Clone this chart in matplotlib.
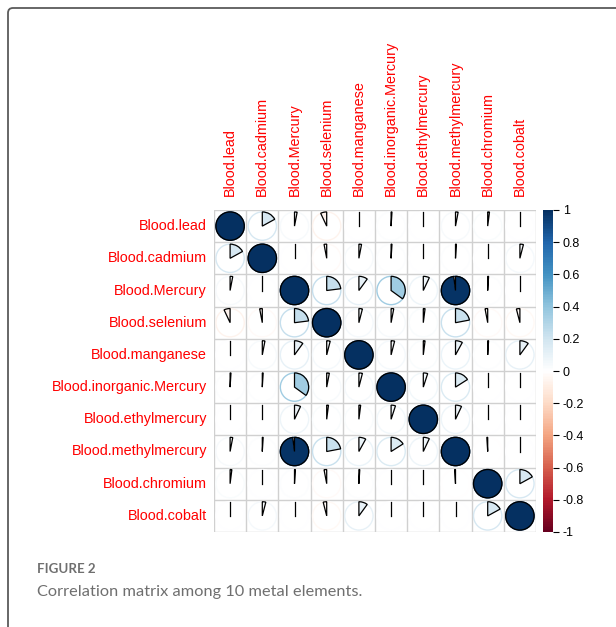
import matplotlib
matplotlib.use("Agg")
import matplotlib.pyplot as plt
from matplotlib.patches import Wedge, Circle, FancyBboxPatch
from matplotlib.colors import LinearSegmentedColormap, Normalize
from matplotlib.cm import ScalarMappable

labels = ["Blood.lead", "Blood.cadmium", "Blood.Mercury", "Blood.selenium",
          "Blood.manganese", "Blood.inorganic.Mercury", "Blood.ethylmercury",
          "Blood.methylmercury", "Blood.chromium", "Blood.cobalt"]

# upper triangle of the correlation matrix, row by row (diagonal = 1)
upper = [
    [0.17, 0.03, -0.07, 0.00, 0.01, 0.00, 0.03, 0.02, 0.00],
    [0.00, -0.03, 0.03, 0.01, 0.00, 0.01, 0.00, 0.04],
    [0.23, 0.10, 0.35, 0.07, 0.98, 0.01, 0.00],
    [0.04, 0.03, 0.02, 0.22, -0.03, -0.04],
    [0.04, 0.02, 0.08, 0.01, 0.10],
    [0.05, 0.16, 0.00, 0.00],
    [0.07, 0.00, 0.00],
    [-0.01, 0.00],
    [0.17],
]

cbar_ticks = [-1, -0.8, -0.6, -0.4, -0.2, 0, 0.2, 0.4, 0.6, 0.8, 1]

palette = ["#67001F", "#B2182B", "#D6604D", "#F4A582", "#FDDBC7", "#FFFFFF",
           "#D1E5F0", "#92C5DE", "#4393C3", "#2166AC", "#053061"]
cmap = LinearSegmentedColormap.from_list("corr", palette, N=200)
norm = Normalize(-1, 1)

n = len(labels)
corr = [[1.0] * n for _ in range(n)]
for i, row in enumerate(upper):
    for k, v in enumerate(row):
        j = i + 1 + k
        corr[i][j] = v
        corr[j][i] = v

W, H = 616, 627
fig = plt.figure(figsize=(W / 100, H / 100), dpi=100)

# outer frame (cropped on the right and bottom)
frame = FancyBboxPatch((8 / W, -0.1), 1.2, 1 - 8 / H + 0.1,
                       boxstyle="round,pad=0,rounding_size=0.008",
                       transform=fig.transFigure, fill=False,
                       edgecolor="#5a5a5a", linewidth=1.3)
fig.patches.append(frame)

font = "Liberation Sans"
ax = fig.add_axes([214 / W, 95 / H, 322 / W, 322 / H])
ax.set_xlim(0, n)
ax.set_ylim(0, n)
ax.set_axis_off()

for k in range(n + 1):
    ax.plot([k, k], [0, n], color="#d0d0d0", lw=1.0, zorder=1)
    ax.plot([0, n], [k, k], color="#d0d0d0", lw=1.0, zorder=1)

rad = 0.44
for i in range(n):
    for j in range(n):
        r = corr[i][j]
        cx, cy = j + 0.5, n - i - 0.5
        col = cmap(norm(r))
        ax.add_patch(Circle((cx, cy), rad, facecolor="white", edgecolor=col,
                            lw=1.0, zorder=2))
        if abs(r) < 0.005:
            ax.plot([cx, cx], [cy, cy + rad], color="black", lw=0.9, zorder=3)
        elif r > 0:
            ax.add_patch(Wedge((cx, cy), rad, 90 - 360 * r, 90, facecolor=col,
                               edgecolor="black", lw=0.9, zorder=3))
        else:
            ax.add_patch(Wedge((cx, cy), rad, 90, 90 - 360 * r, facecolor=col,
                               edgecolor="black", lw=0.9, zorder=3))

for i, lab in enumerate(labels):
    ax.text(-0.22, n - i - 0.5, lab, ha="right", va="center", color="red",
            fontsize=10.4, family=font)
    ax.text(i + 0.5, n + 0.42, lab, ha="center", va="bottom", rotation=90,
            color="red", fontsize=10.4, family=font)

cax = fig.add_axes([543 / W, 95 / H, 10 / W, 322 / H])
sm = ScalarMappable(norm=norm, cmap=cmap)
cb = fig.colorbar(sm, cax=cax, ticks=cbar_ticks)
cb.outline.set_visible(False)
cb.ax.set_yticklabels([("%g" % t) for t in cbar_ticks])
cb.ax.tick_params(length=4, width=0.8, labelsize=9, pad=3)
for t in cb.ax.get_yticklabels():
    t.set_family(font)

fig.text(37 / W, 1 - 569 / H, "FIGURE 2", ha="left", va="center",
         fontsize=9.6, color="#6f6f6f", family="Lato", weight="bold")
fig.text(37 / W, 1 - 592 / H, "Correlation matrix among 10 metal elements.",
         ha="left", va="center", fontsize=11.8, color="#6f6f6f", family="Lato")

fig.savefig("out.png", dpi=100)
